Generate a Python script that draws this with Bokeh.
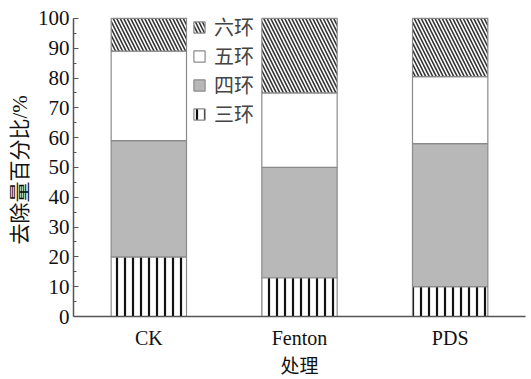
from bokeh.plotting import figure
from bokeh.models import FactorRange, Range1d, Legend, LegendItem, FixedTicker, ColumnDataSource, Title
from bokeh.embed import file_html
from bokeh.resources import INLINE

categories = ["CK", "Fenton", "PDS"]
ring3 = [20, 13, 10]
ring4 = [39, 37, 48]
ring5 = [30, 25, 22.5]
ring6 = [11, 25, 19.5]
series_names = ["三环", "四环", "五环", "六环"]
y_ticks = [0, 10, 20, 30, 40, 50, 60, 70, 80, 90, 100]

FONT = "'Liberation Serif', 'Noto Sans CJK SC'"

src = ColumnDataSource(dict(cat=categories, r3=ring3, r4=ring4, r5=ring5, r6=ring6))

p = figure(width=531, height=379, x_range=FactorRange(*categories, range_padding=0),
           y_range=Range1d(0, 105), output_backend="svg", toolbar_location=None,
           min_border_left=73, min_border_right=6, min_border_top=3, min_border_bottom=56)
p.outline_line_color = None
p.grid.visible = False

styles = [
    dict(fill_color="white", hatch_pattern="vertical_line", hatch_color="#111", hatch_scale=8, hatch_weight=2.2),
    dict(fill_color="#b8b8b8"),
    dict(fill_color="white"),
    dict(fill_color="white", hatch_pattern="left_diagonal_line", hatch_color="#333", hatch_scale=7, hatch_weight=1.6),
]
renderers = p.vbar_stack(["r3", "r4", "r5", "r6"], x="cat", width=0.5, source=src,
                         line_color="#8a8a8a", line_width=1.2,
                         fill_color=[s["fill_color"] for s in styles],
                         hatch_pattern=[s.get("hatch_pattern", " ") for s in styles],
                         hatch_color=[s.get("hatch_color", "black") for s in styles],
                         hatch_scale=[s.get("hatch_scale", 12) for s in styles],
                         hatch_weight=[s.get("hatch_weight", 1) for s in styles])

items = [LegendItem(label=series_names[i], renderers=[renderers[i]]) for i in [3, 2, 1, 0]]
legend = Legend(items=items, location=(119, 188), orientation="vertical",
                border_line_color=None, background_fill_alpha=0,
                label_text_font=FONT, label_text_font_size="20px",
                glyph_width=14, glyph_height=14, label_standoff=8, spacing=0,
                padding=2, margin=0)
p.add_layout(legend, "center")

for ax in [p.xaxis[0], p.yaxis[0]]:
    ax.axis_line_color = "#555"
    ax.axis_line_width = 1.5
    ax.major_label_text_font = FONT
    ax.axis_label_text_font = FONT
    ax.axis_label_text_font_style = "normal"
    ax.major_label_text_color = "#111"
    ax.axis_label_text_color = "#111"

p.xaxis.major_label_text_font_size = "20px"
p.xaxis.axis_label_text_font_size = "19px"
p.xaxis.major_tick_line_color = None
p.xaxis.major_label_standoff = 4
p.xaxis.axis_label = "处理"
p.xaxis.axis_label_standoff = 4

p.yaxis.bounds = (0, 100)
p.yaxis.major_label_text_font_size = "21px"
p.yaxis.ticker = FixedTicker(ticks=y_ticks, minor_ticks=[5, 15, 25, 35, 45, 55, 65, 75, 85, 95])
p.yaxis.major_tick_in = 5
p.yaxis.major_tick_out = 0
p.yaxis.minor_tick_in = 3
p.yaxis.minor_tick_out = 0
p.yaxis.major_tick_line_color = "#555"
p.yaxis.minor_tick_line_color = "#555"
p.yaxis.major_label_standoff = 4

ylabel = Title(text="去除量百分比/%", align="left", offset=72, vertical_align="middle",
               text_font=FONT, text_font_size="21px", text_font_style="normal",
               text_color="#111", standoff=4)
p.add_layout(ylabel, "left")

open("out.html", "w").write(file_html(p, INLINE))
